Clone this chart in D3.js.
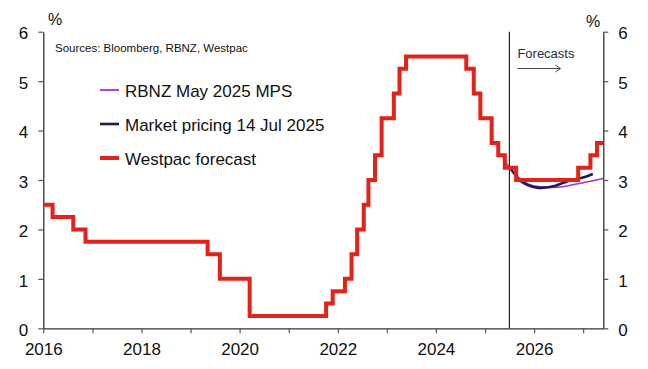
<!DOCTYPE html>
<html>
<head>
<meta charset="utf-8">
<script src="https://cdn.jsdelivr.net/npm/d3@7"></script>
<style>
  html, body { margin: 0; padding: 0; background: #fff; }
  svg { display: block; font-family: "Liberation Sans", Arial, sans-serif; }
</style>
</head>
<body>
<svg id="chart" width="648" height="369"></svg>
<script>
// ---------------- DATA ----------------
const westpacDates = ["2016-01-01","2016-03-10","2016-08-11","2016-11-10","2019-05-08","2019-08-07","2020-03-16",
  "2021-10-06","2021-11-24","2022-02-23","2022-04-13","2022-05-25","2022-07-13","2022-08-17","2022-10-05",
  "2022-11-23","2023-02-22","2023-04-05","2023-05-24","2024-08-14","2024-10-09","2024-11-27","2025-02-19",
  "2025-04-09","2025-05-28","2025-08-20","2026-11-25","2027-02-24","2027-04-14","2027-05-31"];
const westpacValues = [2.5,2.25,2.0,1.75,1.5,1.0,0.25,0.5,0.75,1.0,1.5,2.0,2.5,3.0,3.5,4.25,4.75,5.25,5.5,
  5.25,4.75,4.25,3.75,3.5,3.25,3.0,3.25,3.5,3.75,3.75];

const mpsDates = ["2025-05-15","2025-08-15","2025-11-15","2026-02-15","2026-05-15","2026-08-15","2026-11-15","2027-02-15","2027-05-31"];
const mpsValues = [3.44,3.10,2.92,2.86,2.85,2.87,2.92,2.97,3.03];

const marketDates = ["2025-07-14","2025-08-14","2025-09-14","2025-10-14","2025-11-14","2025-12-14","2026-01-14",
  "2026-02-14","2026-03-14","2026-04-14","2026-05-14","2026-06-14","2026-07-14","2026-08-14","2026-09-14",
  "2026-10-14","2026-11-14","2026-12-14","2027-01-14","2027-02-14","2027-03-14"];
const marketValues = [3.22,3.10,3.00,2.94,2.90,2.87,2.85,2.84,2.845,2.855,2.87,2.89,2.92,2.95,2.98,3.00,3.02,3.04,3.06,3.09,3.12];

const xStart = "2016-01-01", xEnd = "2027-05-31";
const forecastStart = "2025-07-01";
const yTicks = [0,1,2,3,4,5,6];
const legendLabels = ["RBNZ May 2025 MPS","Market pricing 14 Jul 2025","Westpac forecast"];
const legendColors = ["#a22fe0","#221a4f","#e2231a"];

// ---------------- CHART ----------------
const parse = d3.timeParse("%Y-%m-%d");
const svg = d3.select("#chart");
const L = 43.3, R = 603.3, T = 31.7, B = 328.3;

const x = d3.scaleTime().domain([parse(xStart), parse(xEnd)]).range([L, R]);
const y = d3.scaleLinear().domain([0, 6]).range([B, T]);

const textColor = "#111";
const axisColor = "#333";

// axes
const gx = svg.append("g").attr("transform", `translate(0,${B})`)
  .call(d3.axisBottom(x).ticks(d3.timeYear.every(1)).tickSize(5).tickSizeOuter(0).tickPadding(9)
    .tickFormat(d => d.getFullYear() % 2 === 0 ? d3.timeFormat("%Y")(d) : ""));
const gl = svg.append("g").attr("transform", `translate(${L},0)`)
  .call(d3.axisLeft(y).tickValues(yTicks).tickSize(5).tickSizeOuter(0).tickPadding(10).tickFormat(d3.format("d")));
const gr = svg.append("g").attr("transform", `translate(${R},0)`)
  .call(d3.axisRight(y).tickValues(yTicks).tickSize(5).tickSizeOuter(0).tickPadding(10).tickFormat(d3.format("d")));

[gx, gl, gr].forEach(g => {
  g.select(".domain").attr("stroke", axisColor).attr("stroke-width", 1.3);
  g.selectAll(".tick line").attr("stroke", "#555").attr("stroke-width", 1.2);
  g.selectAll(".tick text").attr("fill", textColor).style("font-size", "17px")
    .style("font-family", '"Liberation Sans", Arial, sans-serif');
});
gl.selectAll(".tick text").attr("dy", "0.42em");
gr.selectAll(".tick text").attr("dy", "0.42em");
gx.selectAll(".tick text").attr("dy", "0.75em");

// % labels
svg.append("text").attr("x", 48).attr("y", 25).attr("fill", textColor).style("font-size", "16px").text("%");
svg.append("text").attr("x", 586).attr("y", 27).attr("fill", textColor).style("font-size", "16px").text("%");

// sources
svg.append("text").attr("x", 55).attr("y", 52).attr("fill", textColor).style("font-size", "11.5px")
  .text("Sources: Bloomberg, RBNZ, Westpac");

// forecast divider
const fx = x(parse(forecastStart));
svg.append("line").attr("x1", fx).attr("x2", fx).attr("y1", y(6)).attr("y2", y(0))
  .attr("stroke", "#111").attr("stroke-width", 1.1);
svg.append("text").attr("x", fx + 8).attr("y", 58.3).attr("fill", "#1f2a44").style("font-size", "13px").text("Forecasts");
svg.append("line").attr("x1", fx + 8).attr("x2", fx + 51).attr("y1", 68.5).attr("y2", 68.5)
  .attr("stroke", "#333").attr("stroke-width", 0.9);
svg.append("path").attr("d", `M${fx + 46},${65} L${fx + 51},${68.5} L${fx + 46},${72}`)
  .attr("fill", "none").attr("stroke", "#333").attr("stroke-width", 0.9);

// series
const mk = (dates, vals) => dates.map((d, i) => ({ d: parse(d), v: vals[i] }));

svg.append("path").datum(mk(mpsDates, mpsValues))
  .attr("d", d3.line().x(p => x(p.d)).y(p => y(p.v)).curve(d3.curveMonotoneX))
  .attr("fill", "none").attr("stroke", legendColors[0]).attr("stroke-width", 1.6);

svg.append("path").datum(mk(marketDates, marketValues))
  .attr("d", d3.line().x(p => x(p.d)).y(p => y(p.v)).curve(d3.curveMonotoneX))
  .attr("fill", "none").attr("stroke", legendColors[1]).attr("stroke-width", 2.6);

svg.append("path").datum(mk(westpacDates, westpacValues))
  .attr("d", d3.line().x(p => x(p.d)).y(p => y(p.v)).curve(d3.curveStepAfter))
  .attr("fill", "none").attr("stroke", legendColors[2]).attr("stroke-width", 4)
  .attr("stroke-linejoin", "miter");

// legend
const legendY = [90, 124, 158];
const legendW = [1.8, 2.6, 4];
legendLabels.forEach((lab, i) => {
  svg.append("line").attr("x1", 100).attr("x2", 119).attr("y1", legendY[i]).attr("y2", legendY[i])
    .attr("stroke", legendColors[i]).attr("stroke-width", legendW[i]);
  svg.append("text").attr("x", 125).attr("y", legendY[i] + 6.5).attr("fill", textColor)
    .style("font-size", "17px").text(lab);
});
</script>
</body>
</html>
